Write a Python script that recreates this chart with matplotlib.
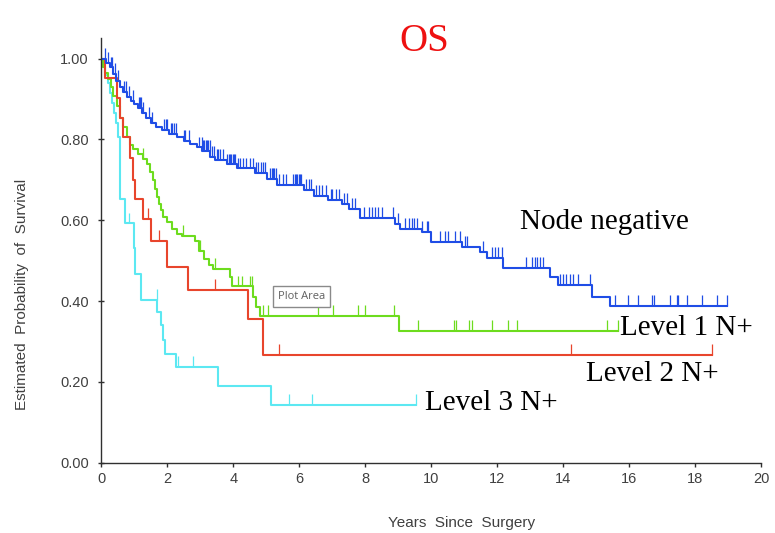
import numpy as np
import matplotlib.pyplot as plt

# Kaplan-Meier step data: step start times and survival after each step
neg_t = [0, 0.15, 0.25, 0.35, 0.45, 0.55, 0.65, 0.78, 0.9, 1.0, 1.12, 1.22, 1.35, 1.5, 1.65,
         1.85, 2.05, 2.3, 2.5, 2.7, 2.9, 3.05, 3.3, 3.45, 3.8, 4.1, 4.66, 5.02, 5.32, 6.15,
         6.45, 6.88, 7.3, 7.5, 7.85, 8.9, 9.05, 9.71, 10.0, 10.92, 11.48, 11.68, 12.19,
         13.6, 13.85, 14.87, 15.42]
neg_s = [1.0, 0.99, 0.978, 0.963, 0.945, 0.93, 0.918, 0.906, 0.895, 0.887, 0.878, 0.866, 0.852,
         0.84, 0.83, 0.823, 0.814, 0.806, 0.797, 0.788, 0.78, 0.772, 0.757, 0.748, 0.738, 0.728,
         0.716, 0.702, 0.687, 0.674, 0.661, 0.651, 0.64, 0.627, 0.606, 0.59, 0.578, 0.57, 0.546,
         0.533, 0.521, 0.507, 0.481, 0.46, 0.44, 0.411, 0.387]
neg_end = 18.98
neg_cens = [0.12, 0.2, 0.28, 0.33, 0.4, 0.5, 0.7, 0.75, 0.85, 0.95, 1.15, 1.18, 1.2, 1.25, 1.45,
            1.55, 1.9, 1.95, 2.0, 2.1, 2.15, 2.2, 2.25, 2.5, 2.55, 2.65, 2.95, 3.04, 3.08, 3.12,
            3.16, 3.2, 3.24, 3.28, 3.35, 3.4, 3.5, 3.55, 3.6, 3.7, 3.82, 3.86, 3.9, 3.94, 3.98,
            4.02, 4.06, 4.15, 4.2, 4.3, 4.4, 4.5, 4.6, 4.7, 4.75, 4.85, 4.9, 4.95, 5.12, 5.16,
            5.2, 5.24, 5.28, 5.4, 5.5, 5.6, 5.82, 5.86, 5.9, 5.94, 5.98, 6.02, 6.06, 6.2, 6.3,
            6.35, 6.5, 6.6, 6.7, 6.8, 6.95, 7.0, 7.1, 7.2, 7.35, 7.45, 7.6, 7.7, 7.95, 8.1, 8.2,
            8.3, 8.4, 8.5, 8.85, 9.0, 9.2, 9.34, 9.41, 9.48, 9.56, 9.71, 9.86, 9.91, 10.27, 10.42,
            10.52, 10.72, 10.87, 11.02, 11.09, 11.58, 11.83, 11.93, 12.03, 12.14, 12.87, 13.05,
            13.15, 13.22, 13.3, 13.4, 13.9, 14.0, 14.1, 14.2, 14.3, 14.46, 14.8, 15.57, 15.98,
            16.28, 16.69, 16.74, 17.24, 17.44, 17.49, 17.75, 18.2, 18.66, 18.96]

l1_t = [0, 0.05, 0.12, 0.2, 0.28, 0.36, 0.46, 0.56, 0.66, 0.77, 0.87, 0.97, 1.12, 1.27, 1.38,
        1.47, 1.57, 1.63, 1.68, 1.74, 1.8, 1.88, 1.98, 2.13, 2.28, 2.43, 2.84, 2.95, 3.1, 3.25,
        3.37, 3.9, 3.97, 4.6, 4.68, 4.8, 9.02]
l1_s = [1.0, 0.98, 0.965, 0.95, 0.93, 0.907, 0.883, 0.854, 0.83, 0.805, 0.785, 0.775, 0.765,
        0.752, 0.738, 0.72, 0.70, 0.678, 0.657, 0.64, 0.625, 0.607, 0.595, 0.578, 0.566, 0.56,
        0.548, 0.525, 0.505, 0.49, 0.48, 0.459, 0.436, 0.41, 0.385, 0.362, 0.327]
l1_end = 15.67
l1_cens = [1.27, 2.46, 3.0, 3.44, 4.15, 4.25, 4.5, 4.56, 4.9, 5.05, 6.57, 7.03, 7.78, 8.0, 8.88,
           9.6, 10.7, 10.75, 11.16, 11.23, 11.83, 12.34, 12.59, 15.32, 15.67]

l2_t = [0, 0.1, 0.46, 0.56, 0.66, 0.87, 0.97, 1.03, 1.25, 1.5, 2.0, 2.64, 4.46, 4.89]
l2_s = [1.0, 0.953, 0.903, 0.854, 0.805, 0.755, 0.70, 0.653, 0.604, 0.549, 0.484, 0.428, 0.356,
        0.267]
l2_end = 18.52
l2_cens = [1.42, 1.75, 3.44, 5.39, 14.23, 18.52]

l3_t = [0, 0.05, 0.12, 0.2, 0.26, 0.32, 0.38, 0.44, 0.5, 0.55, 0.72, 0.98, 1.02, 1.19, 1.7,
        1.8, 1.86, 1.92, 2.26, 3.55, 5.13]
l3_s = [1.0, 0.98, 0.96, 0.94, 0.915, 0.89, 0.865, 0.84, 0.805, 0.653, 0.592, 0.53, 0.467,
        0.403, 0.373, 0.34, 0.303, 0.27, 0.237, 0.19, 0.142]
l3_end = 9.53
l3_cens = [0.85, 1.68, 2.33, 2.79, 5.7, 6.39, 9.53]

yticks = [0.0, 0.2, 0.4, 0.6, 0.8, 1.0]
xticks = [0, 2, 4, 6, 8, 10, 12, 14, 16, 18, 20]


def surv_at(times, surv, t):
    idx = np.searchsorted(times, t, side='right') - 1
    return np.asarray(surv)[idx]


fig = plt.figure(figsize=(7.75, 5.33), dpi=100)
ax = fig.add_axes([0.1308, 0.132, 0.8512, 0.796])

curves = [
    (l3_t, l3_s, l3_end, l3_cens, '#5ce8f2'),
    (l1_t, l1_s, l1_end, l1_cens, '#6ddc1e'),
    (l2_t, l2_s, l2_end, l2_cens, '#e8452c'),
    (neg_t, neg_s, neg_end, neg_cens, '#1f4de6'),
]
for t, s, end, cens, col in curves:
    ax.step(list(t) + [end], list(s) + [s[-1]], where='post', color=col, lw=1.5)
    cy = surv_at(t, s, np.array(cens))
    ax.vlines(cens, cy, cy + 0.027, color=col, lw=0.9)

ax.set_xlim(0, 20)
ax.set_ylim(0, 1.05)
ax.set_xticks(xticks)
ax.set_yticks(yticks)
ax.set_yticklabels([f'{v:.2f}' for v in yticks])
for side in ['top', 'right']:
    ax.spines[side].set_visible(False)
for side in ['left', 'bottom']:
    ax.spines[side].set_color('#303030')
    ax.spines[side].set_linewidth(1.0)
ax.tick_params(axis='x', direction='out', length=3, width=1, color='#303030',
               labelsize=10.5, labelcolor='#404040', pad=4)
ax.tick_params(axis='y', direction='inout', length=4, width=1, color='#303030',
               labelsize=10.5, labelcolor='#404040', pad=7)
for lab in ax.get_xticklabels() + ax.get_yticklabels():
    lab.set_fontfamily('Liberation Sans')

# title and axis titles
fig.text(0.548, 0.904, 'OS', color='#ee1111', fontsize=28, family='Liberation Serif',
         ha='center', va='baseline')
fig.text(0.028, 0.448, 'Estimated  Probability  of  Survival', rotation=90, fontsize=11,
         color='#404040', family='Liberation Sans', ha='center', va='center')
fig.text(0.596, 0.006, 'Years  Since  Surgery', fontsize=11, color='#404040',
         family='Liberation Sans', ha='center', va='bottom')

# curve labels
lab_kw = dict(fontsize=21, family='Liberation Serif', color='black', ha='left', va='baseline')
ax.text(12.69, 0.579, 'Node negative', **lab_kw)
ax.text(15.72, 0.315, 'Level 1 N+', **lab_kw)
ax.text(14.69, 0.202, 'Level 2 N+', **lab_kw)
ax.text(9.81, 0.130, 'Level 3 N+', **lab_kw)

ax.text(6.07, 0.411, 'Plot Area', fontsize=8, family='Open Sans', color='#606060',
        ha='center', va='center',
        bbox=dict(boxstyle='square,pad=0.45', fc='white', ec='#8a8a8a', lw=1))

fig.savefig('out.png', dpi=100)
